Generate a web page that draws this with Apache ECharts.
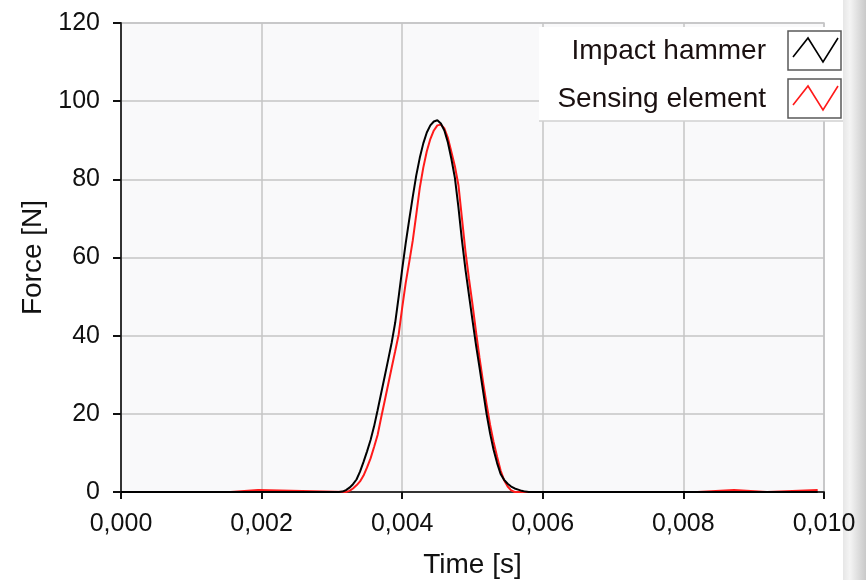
<!DOCTYPE html>
<html>
<head>
<meta charset="utf-8">
<script src="https://cdn.jsdelivr.net/npm/echarts@6/dist/echarts.min.js"></script>
<style>
html,body{margin:0;padding:0;background:#fff;}
#chart{width:866px;height:580px;}
</style>
</head>
<body>
<div id="chart"></div>
<script>
// ---- data (time in seconds, force in N) ----
const seriesNames = ["Impact hammer", "Sensing element"];
const xTicks = [0, 0.002, 0.004, 0.006, 0.008, 0.010];
const yTicks = [0, 20, 40, 60, 80, 100, 120];

const timeHammer = [0, 0.00310, 0.00315, 0.00320, 0.00325, 0.00330, 0.00335, 0.00340, 0.00345, 0.00350,
  0.00355, 0.00360, 0.00365, 0.00370, 0.00375, 0.00380, 0.00385, 0.00390, 0.00395, 0.00400,
  0.00405, 0.00410, 0.00415, 0.00420, 0.00425, 0.00430, 0.00435, 0.00440, 0.00445, 0.00450,
  0.00455, 0.00460, 0.00465, 0.00470, 0.00475, 0.00480, 0.00485, 0.00490, 0.00495, 0.00500,
  0.00505, 0.00510, 0.00515, 0.00520, 0.00525, 0.00530, 0.00535, 0.00540, 0.00545, 0.00550,
  0.00555, 0.00560, 0.00565, 0.00570, 0.00575, 0.00580, 0.00991];
const forceHammer = [0, 0, 0.1, 0.5, 1.1, 2.0, 3.2, 5.2, 7.7, 10.4,
  13.3, 16.8, 20.9, 25.2, 29.5, 33.8, 38.2, 43.3, 50.0, 57.0,
  63.7, 69.7, 75.5, 81.0, 85.5, 89.2, 92.0, 93.8, 94.8, 95.1,
  94.3, 92.5, 89.4, 85.2, 80.3, 72.8, 64.4, 56.9, 50.4, 43.9,
  37.6, 31.8, 25.9, 20.0, 15.0, 10.8, 7.4, 4.6, 3.1, 2.1,
  1.4, 0.9, 0.6, 0.3, 0.1, 0, 0];

const timeSensing = [0, 0.00156, 0.00156, 0.00195, 0.00195, 0.00320, 0.00325, 0.00330, 0.00335, 0.00340,
  0.00345, 0.00350, 0.00355, 0.00360, 0.00365, 0.00370, 0.00375, 0.00380, 0.00385, 0.00390,
  0.00395, 0.00400, 0.00405, 0.00410, 0.00415, 0.00420, 0.00425, 0.00430, 0.00435, 0.00440,
  0.00445, 0.00450, 0.00455, 0.00460, 0.00465, 0.00470, 0.00475, 0.00480, 0.00485, 0.00490,
  0.00495, 0.00500, 0.00505, 0.00510, 0.00515, 0.00520, 0.00525, 0.00530, 0.00535, 0.00540,
  0.00545, 0.00550, 0.00555, 0.00560, 0.00820, 0.00820, 0.00872, 0.00872, 0.00919, 0.00919, 0.00991];
const forceSensing = [0, 0, 0.5, 0.5, 0, 0, 0.3, 0.9, 1.7, 2.7,
  4.2, 6.3, 8.6, 11.5, 14.6, 19.0, 23.2, 27.5, 31.8, 36.0,
  40.3, 47.2, 53.5, 58.8, 64.3, 71.0, 77.8, 83.0, 87.2, 90.3,
  92.5, 93.8, 94.0, 93.0, 90.6, 87.0, 83.3, 78.5, 70.0, 61.5,
  54.5, 48.0, 41.0, 34.3, 28.2, 22.5, 17.2, 12.8, 9.0, 5.5,
  3.0, 1.4, 0.4, 0, 0, 0.5, 0.5, 0, 0, 0.5, 0.5];

const FONT = '"Liberation Sans", Arial, sans-serif';
const pair = (ts, fs) => ts.map((t, i) => [t, fs[i]]);

const chart = echarts.init(document.getElementById('chart'), null, {renderer: 'canvas'});
const GL = 121, GT = 23, GR = 824, GB = 492;

function legendItem(y, name, color) {
  return [
    {type: 'text', z: 12, x: 766, y: y + 20, style: {text: name, font: '28px ' + FONT, fill: '#1a1010', align: 'right', verticalAlign: 'middle'}},
    {type: 'rect', z: 12, shape: {x: 788, y: y, width: 53, height: 39}, style: {fill: '#ffffff', stroke: '#5a5a5a', lineWidth: 1.5}},
    {type: 'polyline', z: 13, shape: {points: [[793, y + 26], [808, y + 7], [823, y + 31], [838, y + 7]]}, style: {stroke: color, lineWidth: 1.6, fill: null}}
  ];
}

const option = {
  animation: false,
  backgroundColor: '#ffffff',
  grid: {left: GL, top: GT, right: 866 - GR, bottom: 580 - GB, containLabel: false, outerBoundsMode: 'none',
    show: true, backgroundColor: '#f9f9fa', borderColor: '#c6c6cc', borderWidth: 1.5},
  xAxis: [{
    type: 'value', min: 0, max: 0.010, interval: 0.002, offset: 5,
    name: 'Time [s]', nameLocation: 'middle', nameGap: 54,
    nameTextStyle: {fontFamily: FONT, fontSize: 28, color: '#111'},
    axisLine: {show: false},
    axisTick: {show: true, length: 7, lineStyle: {color: '#111', width: 2}},
    axisLabel: {fontFamily: FONT, fontSize: 25, color: '#111', margin: 15,
      formatter: v => v.toFixed(3).replace('.', ',')},
    splitLine: {show: true, lineStyle: {color: '#c4c4c4', width: 1.5}}
  }, {
    type: 'value', position: 'top', min: 0, max: 0.010,
    axisLine: {show: true, lineStyle: {color: '#333', width: 2}},
    axisTick: {show: false}, axisLabel: {show: false}, splitLine: {show: false}
  }],
  yAxis: [{
    type: 'value', min: 0, max: 120, interval: 20, offset: 4,
    name: 'Force [N]', nameLocation: 'middle', nameGap: 66, nameRotate: 90,
    nameTextStyle: {fontFamily: FONT, fontSize: 28, color: '#111'},
    axisLine: {show: false},
    axisTick: {show: true, length: 8, lineStyle: {color: '#111', width: 2}},
    axisLabel: {fontFamily: FONT, fontSize: 25, color: '#111', margin: 17},
    splitLine: {show: true, lineStyle: {color: '#c4c4c4', width: 1.5}}
  }, {
    type: 'value', position: 'left', min: 0, max: 120,
    axisLine: {show: true, lineStyle: {color: '#333', width: 2}},
    axisTick: {show: false}, axisLabel: {show: false}, splitLine: {show: false}
  }],
  series: [{
    name: seriesNames[1], type: 'line', data: pair(timeSensing, forceSensing),
    showSymbol: false, symbol: 'none', z: 2,
    lineStyle: {color: '#ff1a1a', width: 2}
  }, {
    name: seriesNames[0], type: 'line', data: pair(timeHammer, forceHammer),
    showSymbol: false, symbol: 'none', z: 3,
    lineStyle: {color: '#000000', width: 2}
  }],
  graphic: [
    {type: 'rect', shape: {x: 843, y: 0, width: 23, height: 580}, z: 0,
      style: {fill: new echarts.graphic.LinearGradient(0, 0, 1, 0, [
        {offset: 0, color: '#e6e6e6'}, {offset: 0.3, color: '#f4f4f4'}, {offset: 1, color: '#c9c9c9'}])}},
    {type: 'rect', shape: {x: 539, y: 27, width: 304, height: 94}, z: 10,
      style: {fill: '#ffffff', stroke: null}},
    {type: 'line', shape: {x1: 539, y1: 121, x2: 843, y2: 121}, z: 10, style: {stroke: '#d0d0d0', lineWidth: 1.5}}
  ].concat(
    legendItem(31, seriesNames[0], '#000000'),
    legendItem(79, seriesNames[1], '#ff1a1a')
  )
};
chart.setOption(option);
</script>
</body>
</html>
